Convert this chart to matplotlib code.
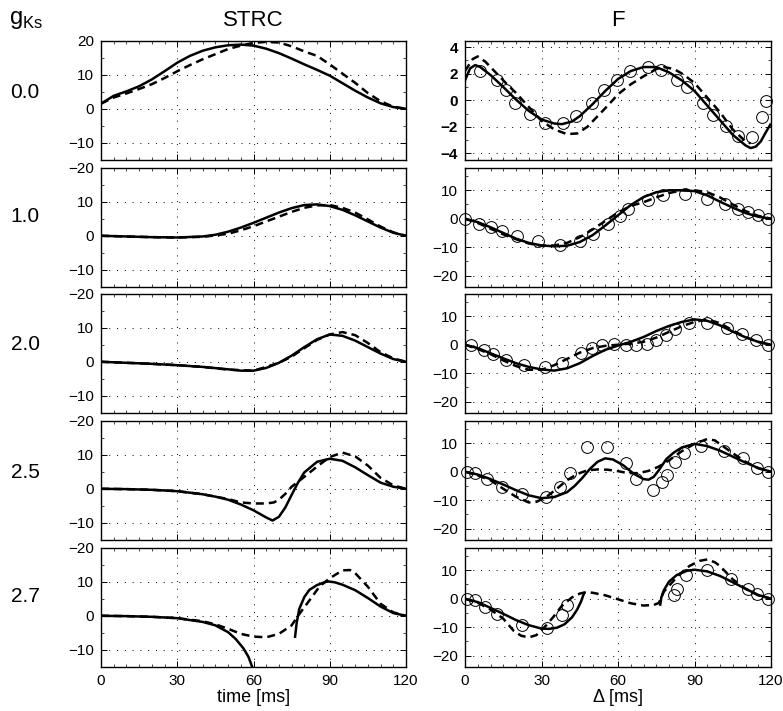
import numpy as np
import matplotlib
matplotlib.use('Agg')
import matplotlib.pyplot as plt
from matplotlib.ticker import MultipleLocator

plt.rcParams['font.family'] = ['Liberation Sans', 'DejaVu Sans']

gks = ['0.0', '1.0', '2.0', '2.5', '2.7']

# ---- STRC column (time [ms]) ----
strc0_t = [0, 5, 10, 15, 20, 25, 30, 35, 40, 45, 50, 55, 60, 65, 70, 75, 80, 85, 90, 95, 100, 105, 110, 115, 120]
strc0_solid = [1.5, 3.8, 5.1, 6.6, 8.6, 11, 13.5, 15.5, 17, 18, 18.6, 18.8, 18.5, 17.6, 16.3, 14.7, 13, 11.4, 9.7, 7.5, 5.3, 3.3, 1.6, 0.5, 0]
strc0_dash = [1.5, 3.3, 4.5, 5.8, 7.2, 9, 11, 12.8, 14.5, 16, 17.5, 18.5, 19.3, 19.6, 19.4, 18.3, 16.8, 15.5, 13, 10.3, 7.6, 4.6, 2.2, 0.6, 0]

strc1_t = [0, 10, 20, 30, 40, 45, 50, 55, 60, 65, 70, 75, 80, 85, 90, 95, 100, 105, 110, 115, 120]
strc1_solid = [0, -0.2, -0.4, -0.5, -0.2, 0.3, 1.2, 2.4, 3.8, 5.3, 6.8, 8.1, 9.0, 9.2, 8.7, 7.6, 6, 4.2, 2.4, 0.9, 0]
strc1_dash = [0, -0.2, -0.4, -0.5, -0.3, 0.1, 0.6, 1.6, 2.8, 4.2, 5.6, 7, 8.2, 8.9, 9, 8.2, 6.8, 4.8, 2.7, 1, 0]

strc2_solid_t = [0, 10, 20, 30, 40, 50, 55, 60, 65, 70, 75, 80, 85, 90, 95, 100, 105, 110, 115, 120]
strc2_solid = [0, -0.3, -0.6, -1, -1.5, -2.2, -2.6, -2.6, -1.8, -0.3, 1.8, 4.3, 6.6, 8, 7.6, 6.2, 4.3, 2.4, 0.8, 0]
strc2_dash_t = [0, 10, 20, 30, 40, 50, 60, 65, 70, 75, 80, 85, 90, 95, 100, 105, 110, 115, 120]
strc2_dash = [0, -0.3, -0.6, -1, -1.5, -2.3, -2.6, -1.5, -0.3, 1.5, 4, 6.4, 8, 8.7, 7.8, 5.5, 2.8, 1, 0]

strc3_solid_t = [0, 10, 20, 30, 40, 45, 50, 55, 60, 65, 67.5, 70, 72.5, 75, 77.5, 80, 85, 90, 95, 100, 105, 110, 115, 120]
strc3_solid = [0, -0.1, -0.3, -0.7, -1.6, -2.3, -3.2, -4.6, -6.3, -8.4, -9.3, -8.2, -5.5, -1.8, 1.8, 4.8, 7.9, 8.8, 8.2, 6.3, 4, 1.8, 0.6, 0]
strc3_dash_t = [0, 10, 20, 30, 40, 50, 55, 60, 65, 68, 70, 72.5, 75, 80, 85, 90, 95, 100, 105, 110, 115, 120]
strc3_dash = [0, -0.1, -0.3, -0.7, -1.6, -3.0, -4.0, -4.3, -4.3, -4.0, -3.2, -1.5, 0.6, 3.5, 6.5, 9.3, 10.6, 9.5, 6.8, 3.2, 1, 0]

strc4_solid1_t = [0, 10, 20, 30, 40, 45, 50, 53, 56, 58, 59.5, 60.5]
strc4_solid1 = [0, -0.1, -0.3, -0.7, -1.8, -2.8, -4.8, -6.8, -9.5, -12, -15, -17]
strc4_solid2_t = [76.3, 77, 78, 80, 82, 85, 89, 92, 95, 100, 105, 110, 115, 120]
strc4_solid2 = [-6.5, -2, 2, 5.5, 7.6, 9, 10.1, 9.8, 9.1, 7.5, 5.2, 2.7, 0.8, 0]
strc4_dash_t = [0, 10, 20, 30, 40, 45, 50, 55, 60, 65, 70, 75, 78, 82, 86, 90, 95, 98, 100, 105, 110, 115, 120]
strc4_dash = [0, -0.1, -0.3, -0.7, -1.6, -2.5, -3.8, -5.3, -6.1, -6.3, -5.3, -2.8, 0.5, 4.5, 8.6, 11, 13.3, 13.4, 12.5, 8.5, 3.5, 1, 0]

# ---- F column (Delta [ms]) ----
f0_solid_t = [0, 2, 4, 6, 10, 15, 20, 25, 30, 35, 38, 42, 45, 50, 55, 60, 65, 70, 75, 80, 85, 90, 95, 100, 105, 110, 112, 114, 116, 118, 120]
f0_solid = [1.5, 2.4, 2.65, 2.5, 1.9, 1.0, 0.05, -0.8, -1.45, -1.75, -1.8, -1.6, -1.2, -0.3, 0.7, 1.6, 2.2, 2.5, 2.5, 2.1, 1.5, 0.7, -0.4, -1.5, -2.6, -3.4, -3.6, -3.5, -3.1, -2.4, -1.75]
f0_dash_t = [0, 3, 5, 8, 12, 16, 20, 25, 30, 35, 40, 44, 48, 52, 56, 60, 65, 70, 75, 78, 82, 86, 90, 95, 100, 105, 110, 112]
f0_dash = [2.2, 3.1, 3.3, 2.9, 2.1, 1.3, 0.55, -0.5, -1.55, -2.2, -2.55, -2.5, -2.0, -1.2, -0.4, 0.45, 1.2, 1.8, 2.35, 2.5, 2.35, 1.9, 1.3, 0.2, -0.9, -2.2, -3.1, -3.25]
f0_circ_t = [5.9, 12.4, 16.1, 19.6, 25.5, 31.4, 38.6, 43.5, 49.7, 54.5, 59.5, 64.7, 71.9, 76.9, 83.0, 87.2, 93.5, 97.4, 102.4, 107.2, 112.7, 116.4, 118.0]
f0_circ = [2.24, 1.56, 0.8, -0.17, -1.05, -1.69, -1.69, -1.18, -0.22, 0.8, 1.56, 2.24, 2.5, 2.26, 1.56, 1.0, -0.22, -1.1, -1.94, -2.7, -2.75, -1.28, -0.09]

f1_t = [0, 5, 10, 15, 20, 25, 30, 35, 40, 45, 50, 55, 60, 65, 70, 75, 80, 85, 90, 95, 100, 105, 110, 115, 120]
f1_solid = [0, -1.2, -3, -5, -7, -8.5, -9.4, -9.7, -9.5, -8.2, -5.8, -2.4, 1.2, 4.8, 7.6, 9.3, 10, 10, 9.7, 8.2, 6, 3.9, 2.0, 0.7, 0]
f1_dash = [0, -1.5, -3.5, -5.5, -7.2, -8.7, -9.5, -9.4, -8.5, -6.5, -3.8, -0.8, 2.2, 4.5, 5.8, 7.5, 9, 10, 10, 9.3, 7.5, 5, 2.7, 1, 0]
f1_circ_t = [0, 5.5, 10.1, 14.4, 20.3, 28.5, 37.3, 45.1, 50.3, 56, 60.8, 64, 71.9, 77.8, 86.3, 94.8, 102, 107.2, 111.1, 115, 119]
f1_circ = [0, -1.8, -3.0, -4.4, -5.9, -7.9, -9.1, -7.9, -5.5, -2.0, 0.8, 3.5, 6.5, 8.5, 8.8, 7.1, 5.1, 3.5, 2.3, 1.2, 0]

f2_t = [0, 5, 10, 15, 20, 25, 30, 35, 40, 45, 50, 55, 60, 65, 70, 75, 80, 85, 90, 95, 100, 105, 110, 115, 120]
f2_solid = [0, -1.2, -3, -4.8, -6.5, -7.8, -8.7, -9.1, -8.3, -6.5, -4, -1.8, -0.3, 1.0, 2.7, 4.8, 6.6, 8, 8.9, 8.4, 6.8, 4.6, 2.6, 1.0, 0]
f2_dash = [0, -1.5, -3.3, -5.5, -7.5, -8.8, -8.8, -7.2, -5, -2.8, -1.2, -0.4, 0, 0.4, 1, 2.5, 4.5, 6.5, 8, 8.9, 7.6, 5, 2.7, 1, 0]
f2_circ_t = [2.35, 7.6, 11.1, 16.1, 23.3, 31.4, 37.9, 45.5, 49.7, 53.6, 58.4, 63.1, 67.1, 71.5, 74.9, 78.7, 82.5, 88, 94.8, 102.6, 108.5, 114.1, 119]
f2_circ = [0, -2.0, -3.4, -5.4, -7.2, -7.8, -6.6, -2.8, -1.1, -0.25, 0.1, -0.25, -0.25, 0.35, 1.6, 3.5, 5.4, 7.5, 7.5, 5.8, 3.6, 1.5, 0]

f3_solid_t = [0, 5, 10, 15, 20, 25, 30, 35, 40, 43, 46, 49, 52, 55, 58, 62, 66, 70, 72, 74, 76, 79, 82, 85, 90, 95, 100, 105, 110, 115, 120]
f3_solid = [0, -1, -2.6, -4.5, -6.5, -8.3, -9.3, -8.9, -7.2, -5, -2.2, 1, 3.5, 4.7, 4.3, 2.3, -0.6, -2.6, -2.8, -1.8, 0.5, 4.5, 6.8, 8.5, 9.8, 9, 7.4, 5.3, 3.2, 1.3, 0]
f3_dash_t = [0, 5, 10, 15, 20, 25, 28, 32, 36, 40, 44, 48, 52, 56, 60, 64, 68, 72, 76, 80, 85, 90, 95, 98, 100, 105, 110, 115, 120]
f3_dash = [0, -1.3, -3, -6, -8.8, -10.8, -10.6, -8.8, -6, -3, -0.8, 0.5, 0.8, 0.7, 0.2, -0.5, -0.5, 0.3, 1.8, 4, 7.2, 9.8, 11.5, 11, 9.7, 6.5, 3.5, 1.2, 0]
f3_circ_t = [0.7, 3.9, 8.5, 14.4, 22.2, 31.8, 37.3, 41.2, 47.7, 55.8, 63.1, 67.1, 73.6, 77.1, 79.1, 82.4, 85.9, 92.4, 101.7, 108.9, 114.4, 119]
f3_circ = [0, -0.6, -2.7, -5.3, -8.0, -8.85, -5.5, -0.6, 8.6, 8.6, 3.2, -2.6, -6.5, -3.5, -1.2, 3.5, 6.7, 9.0, 7.4, 4.7, 1.2, 0]

f4_solid1_t = [0, 5, 10, 15, 20, 25, 30, 33, 36, 39, 42, 44, 45.5, 46.5, 47]
f4_solid1 = [0, -1.2, -3.2, -5.3, -7.5, -9.3, -10.5, -10.6, -10.2, -9, -6.5, -3.8, -1, 1.5, 2.4]
f4_solid2_t = [76.5, 77, 78, 80, 83, 87, 90, 95, 100, 105, 110, 115, 120]
f4_solid2 = [-2.5, 0.5, 3, 6, 8.3, 9.8, 10.2, 9.6, 8, 5.8, 3.5, 1.3, 0]
f4_dash_t = [0, 5, 10, 15, 19, 22, 25, 28, 32, 35, 38, 42, 45, 47, 50, 55, 60, 65, 70, 74, 76, 77, 78, 80, 84, 88, 92, 95, 98, 100, 105, 110, 115, 120]
f4_dash = [0, -1.4, -3.8, -7, -11.2, -13, -13.6, -12.8, -9.2, -6, -2.5, 0.5, 1.8, 2.2, 2.1, 1.2, -0.2, -1.6, -2.4, -2.2, -1.5, 0.5, 2.5, 4.5, 8.5, 11.5, 13.3, 13.8, 12.8, 11.5, 6.8, 3.5, 1.2, 0]
f4_circ_t = [0.65, 3.9, 7.8, 12.4, 22.2, 32, 38.2, 39.9, 82.1, 83, 86.7, 94.8, 104.3, 110.9, 114.4, 119]
f4_circ = [0, -0.6, -3.0, -5.5, -9.4, -10.3, -5.7, -2.1, 1.2, 3.5, 8.2, 10.2, 7.1, 3.5, 1.8, 0]

strc_solid = [[(strc0_t, strc0_solid)], [(strc1_t, strc1_solid)], [(strc2_solid_t, strc2_solid)],
              [(strc3_solid_t, strc3_solid)], [(strc4_solid1_t, strc4_solid1), (strc4_solid2_t, strc4_solid2)]]
strc_dash = [(strc0_t, strc0_dash), (strc1_t, strc1_dash), (strc2_dash_t, strc2_dash),
             (strc3_dash_t, strc3_dash), (strc4_dash_t, strc4_dash)]
f_solid = [[(f0_solid_t, f0_solid)], [(f1_t, f1_solid)], [(f2_t, f2_solid)],
           [(f3_solid_t, f3_solid)], [(f4_solid1_t, f4_solid1), (f4_solid2_t, f4_solid2)]]
f_dash = [(f0_dash_t, f0_dash), (f1_t, f1_dash), (f2_t, f2_dash), (f3_dash_t, f3_dash), (f4_dash_t, f4_dash)]
f_circ = [(f0_circ_t, f0_circ), (f1_circ_t, f1_circ), (f2_circ_t, f2_circ), (f3_circ_t, f3_circ), (f4_circ_t, f4_circ)]

W, H = 783, 711
fig = plt.figure(figsize=(W / 100, H / 100), dpi=100)

row_bottom_px = [160, 287, 413, 540, 667]
row_h = 119.5 / H
lw = 1.8
dash = (3.2, 2.0)
MINUS = '\u2212'


def style(ax, bottom_row):
    ax.set_xlim(0, 120)
    ax.set_xticks([0, 30, 60, 90, 120])
    ax.xaxis.set_minor_locator(MultipleLocator(5))
    ax.tick_params(which='both', direction='in', top=True, right=True, labelsize=11, pad=5)
    ax.tick_params(which='major', length=4, width=0.7)
    ax.tick_params(which='minor', length=2, width=0.5)
    # sparse black dots, like the matlab ':' grid
    ax.grid(True, which='major', linestyle=(0, (1, 7)), color='k', linewidth=0.7)
    for s in ax.spines.values():
        s.set_linewidth(1.0)
    if not bottom_row:
        ax.set_xticklabels([])


for i in range(5):
    b = (H - row_bottom_px[i]) / H
    last = (i == 4)

    # left: STRC
    ax = fig.add_axes([101 / W, b, 305 / W, row_h])
    for t, v in strc_solid[i]:
        ax.plot(t, v, color='k', lw=lw, solid_capstyle='butt')
    t, v = strc_dash[i]
    ax.plot(t, v, color='k', lw=lw, linestyle=(0, dash))
    ax.set_ylim(-15, 20)
    ax.set_yticks([-10, 0, 10, 20])
    top_lbl = '20' if i == 0 else MINUS + '20'
    ax.set_yticklabels([MINUS + '10', '0', '10', top_lbl])
    ax.yaxis.set_minor_locator(MultipleLocator(5))
    style(ax, last)
    if last:
        ax.set_xlabel('time [ms]', fontsize=13, labelpad=1)

    # right: F
    ax = fig.add_axes([465 / W, b, 306 / W, row_h])
    for t, v in f_solid[i]:
        ax.plot(t, v, color='k', lw=lw, solid_capstyle='butt')
    t, v = f_dash[i]
    ax.plot(t, v, color='k', lw=lw, linestyle=(0, dash))
    t, v = f_circ[i]
    ax.plot(t, v, 'o', mfc='none', mec='k', ms=8.5, mew=0.7, clip_on=False, zorder=5)
    if i == 0:
        ax.set_ylim(-4.5, 4.5)
        ax.set_yticks([-4, -2, 0, 2, 4])
        ax.set_yticklabels([MINUS + '4', MINUS + '2', '0', '2', '4'])
        ax.yaxis.set_minor_locator(MultipleLocator(1))
    else:
        ax.set_ylim(-24, 18)
        ax.set_yticks([-20, -10, 0, 10])
        ax.set_yticklabels([MINUS + '20', MINUS + '10', '0', '10'])
        ax.yaxis.set_minor_locator(MultipleLocator(5))
    style(ax, last)
    if i == 0:
        for lab in ax.get_yticklabels():
            lab.set_fontweight('bold')
    if last:
        ax.set_xlabel('\u0394 [ms]', fontsize=13, labelpad=1)

# column titles and g_Ks labels
fig.text(253.5 / W, 1 - 20 / H, 'STRC', ha='center', va='center', fontsize=16)
fig.text(618 / W, 1 - 20 / H, 'F', ha='center', va='center', fontsize=16)
fig.text(9 / W, 1 - 20 / H, r'g$_{\mathregular{Ks}}$', ha='left', va='center', fontsize=17)
label_y_px = [92, 217, 344, 472, 597]
for lbl, yp in zip(gks, label_y_px):
    fig.text(25 / W, 1 - yp / H, lbl, ha='center', va='center', fontsize=15)

fig.savefig('out.png', dpi=100)
